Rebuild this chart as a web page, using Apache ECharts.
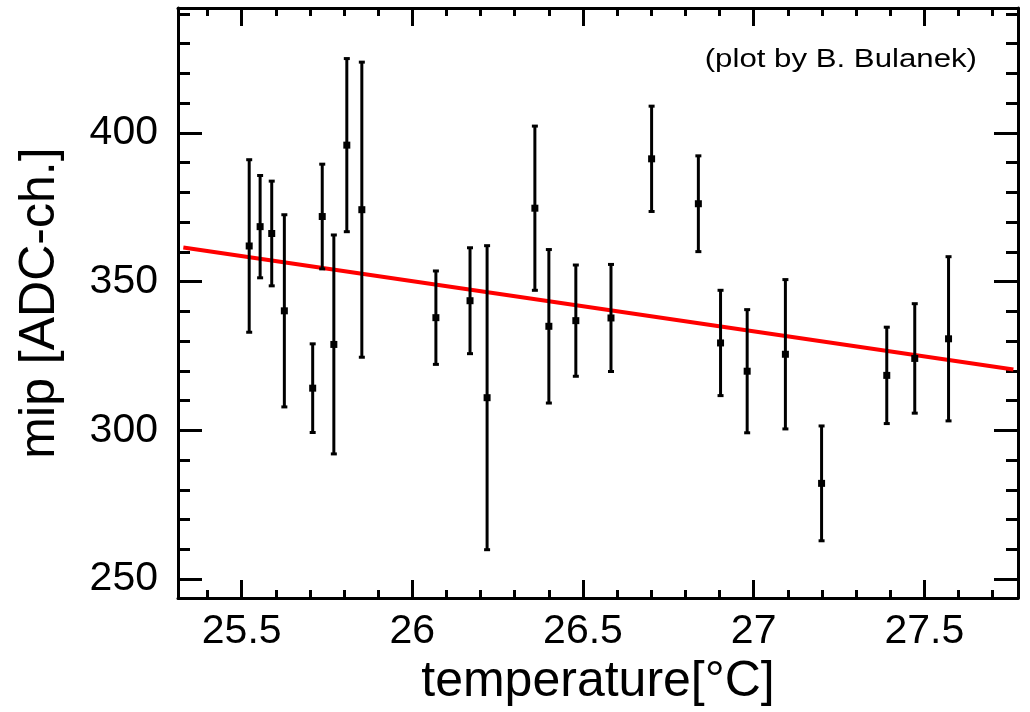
<!DOCTYPE html>
<html>
<head>
<meta charset="utf-8">
<title>mip vs temperature</title>
<script src="https://cdn.jsdelivr.net/npm/echarts@6/dist/echarts.min.js"></script>
<style>
  html, body { margin: 0; padding: 0; background: #ffffff; }
  #chart { width: 1030px; height: 712px; }
</style>
</head>
<body>
<div id="chart"></div>
<script>
// Measured temperatures [°C]
const temperature = [
  25.522, 25.554, 25.588, 25.625, 25.708, 25.736, 25.770, 25.808, 25.852,
  26.069, 26.169, 26.219, 26.359, 26.400, 26.479, 26.582, 26.701, 26.838,
  26.903, 26.981, 27.093, 27.199, 27.390, 27.472, 27.571
];
// MIP peak position [ADC channels]
const mip = [
  362.0, 368.5, 366.2, 340.2, 314.2, 371.9, 328.9, 395.9, 374.2,
  337.9, 343.6, 311.0, 374.7, 335.0, 336.9, 337.8, 391.3, 376.2,
  329.4, 319.9, 325.6, 282.2, 318.5, 324.2, 330.8
];
// Symmetric uncertainty of the MIP position
const mipError = [
  29.0, 17.2, 17.6, 32.3, 14.9, 17.6, 36.8, 29.1, 49.6,
  15.7, 17.8, 51.1, 27.6, 25.8, 18.7, 18.0, 17.7, 16.1,
  17.7, 20.7, 25.1, 19.3, 16.2, 18.4, 27.6
];
// Linear fit, end points [temperature, mip]
const fitLine = [[25.329, 361.5], [27.761, 320.5]];

// Axis ranges and tick values
const xRange = [25.3134, 27.7745];
const yRange = [243.63, 442.0];
const xMajorTicks = [25.5, 26, 26.5, 27, 27.5];
const xMinorTicks = [25.4, 25.6, 25.7, 25.8, 25.9, 26.1, 26.2, 26.3, 26.4,
                     26.6, 26.7, 26.8, 26.9, 27.1, 27.2, 27.3, 27.4, 27.6, 27.7];
const yMajorTicks = [250, 300, 350, 400];
const yMinorTicks = [260, 270, 280, 290, 310, 320, 330, 340, 360, 370, 380, 390,
                     410, 420, 430, 440];

const FONT = "'Liberation Sans', Arial, Helvetica, sans-serif";
const BLACK = '#000000';

const points = temperature.map((t, i) => [t, mip[i], mipError[i]]);

function xAxisDef(position, ticks, tickLen, withLine, withLabels) {
  return {
    type: 'value', position: position, min: xRange[0], max: xRange[1],
    axisLine: { show: withLine, onZero: false, lineStyle: { color: BLACK, width: 3 } },
    axisTick: { show: true, inside: true, length: tickLen, customValues: ticks,
                lineStyle: { color: BLACK, width: 3 } },
    axisLabel: withLabels ? {
      show: true, customValues: ticks, fontSize: 41, fontFamily: FONT, color: BLACK, margin: 13
    } : { show: false },
    splitLine: { show: false }
  };
}
function yAxisDef(position, ticks, tickLen, withLine, withLabels) {
  return {
    type: 'value', position: position, min: yRange[0], max: yRange[1],
    axisLine: { show: withLine, onZero: false, lineStyle: { color: BLACK, width: 3 } },
    axisTick: { show: true, inside: true, length: tickLen, customValues: ticks,
                lineStyle: { color: BLACK, width: 3 } },
    axisLabel: withLabels ? {
      show: true, customValues: ticks, fontSize: 41, fontFamily: FONT, color: BLACK, margin: 20
    } : { show: false },
    splitLine: { show: false }
  };
}

const xMain = xAxisDef('bottom', xMajorTicks, 18, true, true);
xMain.name = 'temperature[°C]';
xMain.nameLocation = 'middle';
xMain.nameGap = 53;
xMain.nameTextStyle = { fontSize: 50, fontFamily: FONT, color: BLACK };

const yMain = yAxisDef('left', yMajorTicks, 24, true, true);
yMain.name = 'mip [ADC-ch.]';
yMain.nameLocation = 'middle';
yMain.nameGap = 113;
yMain.nameTextStyle = { fontSize: 50, fontFamily: FONT, color: BLACK };

const chart = echarts.init(document.getElementById('chart'), null, { renderer: 'canvas' });

chart.setOption({
  backgroundColor: '#ffffff',
  animation: false,
  grid: { left: 178, top: 8, width: 840, height: 592, containLabel: false },
  xAxis: [
    xMain,
    xAxisDef('bottom', xMinorTicks, 8, false, false),
    xAxisDef('top', xMajorTicks, 18, true, false),
    xAxisDef('top', xMinorTicks, 8, false, false)
  ],
  yAxis: [
    yMain,
    yAxisDef('left', yMinorTicks, 12, false, false),
    yAxisDef('right', yMajorTicks, 24, true, false),
    yAxisDef('right', yMinorTicks, 12, false, false)
  ],
  graphic: [{
    // credit note, right-aligned near the top-right corner, slightly widened
    type: 'text',
    x: 977,
    y: 60,
    scaleX: 1.2,
    style: {
      text: '(plot by B. Bulanek)', fontSize: 26, fontFamily: FONT, fill: BLACK,
      align: 'right', verticalAlign: 'middle'
    }
  }],
  series: [
    {
      // fit line
      type: 'line',
      xAxisIndex: 0, yAxisIndex: 0,
      data: fitLine,
      symbol: 'none',
      lineStyle: { color: '#ff0000', width: 4 },
      z: 2
    },
    {
      // measurements with error bars
      type: 'custom',
      xAxisIndex: 0, yAxisIndex: 0,
      data: points,
      z: 3,
      renderItem: function (params, api) {
        const x = api.value(0), y = api.value(1), e = api.value(2);
        const c = api.coord([x, y]);
        const hi = api.coord([x, y + e]);
        const lo = api.coord([x, y - e]);
        const cap = 3, half = 3.5;
        const ls = { stroke: BLACK, lineWidth: 3 };
        return {
          type: 'group',
          children: [
            { type: 'line', shape: { x1: c[0], y1: hi[1], x2: c[0], y2: lo[1] }, style: ls },
            { type: 'line', shape: { x1: c[0] - cap, y1: hi[1], x2: c[0] + cap, y2: hi[1] }, style: ls },
            { type: 'line', shape: { x1: c[0] - cap, y1: lo[1], x2: c[0] + cap, y2: lo[1] }, style: ls },
            { type: 'rect', shape: { x: c[0] - half, y: c[1] - half, width: 2 * half, height: 2 * half },
              style: { fill: BLACK } }
          ]
        };
      }
    }
  ]
});
</script>
</body>
</html>
